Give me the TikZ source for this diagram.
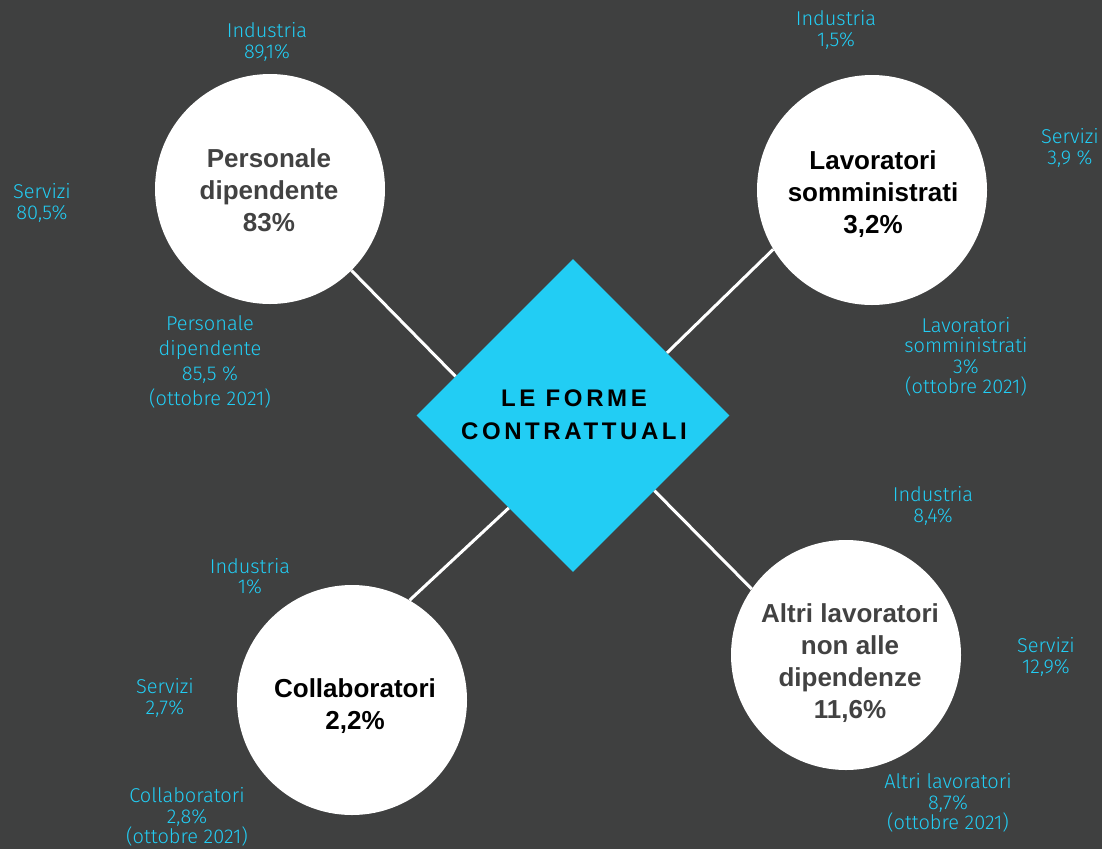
\documentclass[tikz,border=0pt]{standalone}
\usepackage{fontspec}
\setmainfont{Liberation Sans}
\newfontfamily\lightf{Fira Sans Light}
\newfontfamily\spacedf{Liberation Sans}[LetterSpace=15]
\usetikzlibrary{shapes.geometric,calc}
\definecolor{bg}{HTML}{3F4040}
\definecolor{cy}{HTML}{22CDF4}
\definecolor{dg}{HTML}{424242}
\begin{document}
\begin{tikzpicture}[x=1pt,y=-1pt,
  bubble/.style={circle,fill=white,minimum size=230pt,inner sep=0pt},
  big/.style={font=\fontsize{26}{32}\selectfont\bfseries,align=center,inner sep=0pt},
  lab/.style={text=cy,font=\lightf\fontsize{20}{20.5}\selectfont,align=center,inner sep=0pt},
  labwide/.style={lab,font=\lightf\fontsize{20}{25}\selectfont},
  conn/.style={draw=white,line width=3pt}]
\fill[bg] (0,0) rectangle (1102,849);
\useasboundingbox (0,0) rectangle (1102,849);

\node[diamond,aspect=1,fill=cy,minimum width=313pt,minimum height=313pt,inner sep=0pt] (dia) at (573,415.5) {};
\node[align=center,inner sep=0pt,font=\spacedf\bfseries\fontsize{24}{33}\selectfont] (title) at (574,415) {LE FORME\\CONTRATTUALI};

\node[bubble] (pd) at (270,189) {};
\node[big,text=dg] (pdt) at (269,190) {Personale\\dipendente\\83\%};
\node[bubble] (ls) at (872,190) {};
\node[big,text=black] (lst) at (873,194) {Lavoratori\\somministrati\\3,2\%};
\node[bubble] (al) at (846,655) {};
\node[big,text=dg] (alt) at (850,663) {Altri lavoratori\\non alle\\dipendenze\\11,6\%};
\node[bubble] (co) at (352,700) {};
\node[big,text=black] (cot) at (355,706) {Collaboratori\\2,2\%};

\draw[conn] ($(dia.west)!0.25!(dia.north)$) -- (pd.-45);
\draw[conn] ($(dia.north)!0.6!(dia.east)$) -- (ls.211);
\draw[conn] ($(dia.west)!0.59!(dia.south)$) -- (co.60);
\draw[conn] ($(dia.south)!0.52!(dia.east)$) -- (al.145);

\node[lab] (l1) at (267,42) {Industria\\89,1\%};
\node[lab] (l2) at (42,203) {Servizi\\80,5\%};
\node[labwide] (l3) at (210,362) {Personale\\dipendente\\85,5 \%\\(ottobre 2021)};
\node[lab] (l4) at (836,30) {Industria\\1,5\%};
\node[lab] (l5) at (1070,148) {Servizi\\3,9 \%};
\node[lab] (l6) at (966,357) {Lavoratori\\somministrati\\3\%\\(ottobre 2021)};
\node[lab] (l7) at (933,506) {Industria\\8,4\%};
\node[lab] (l8) at (1046,657) {Servizi\\12,9\%};
\node[lab] (l9) at (948,803) {Altri lavoratori\\8,7\%\\(ottobre 2021)};
\node[lab] (l10) at (250,576) {Industria\\1\%};
\node[lab] (l11) at (165,698) {Servizi\\2,7\%};
\node[lab] (l12) at (187,817) {Collaboratori\\2,8\%\\(ottobre 2021)};
\end{tikzpicture}
\end{document}
